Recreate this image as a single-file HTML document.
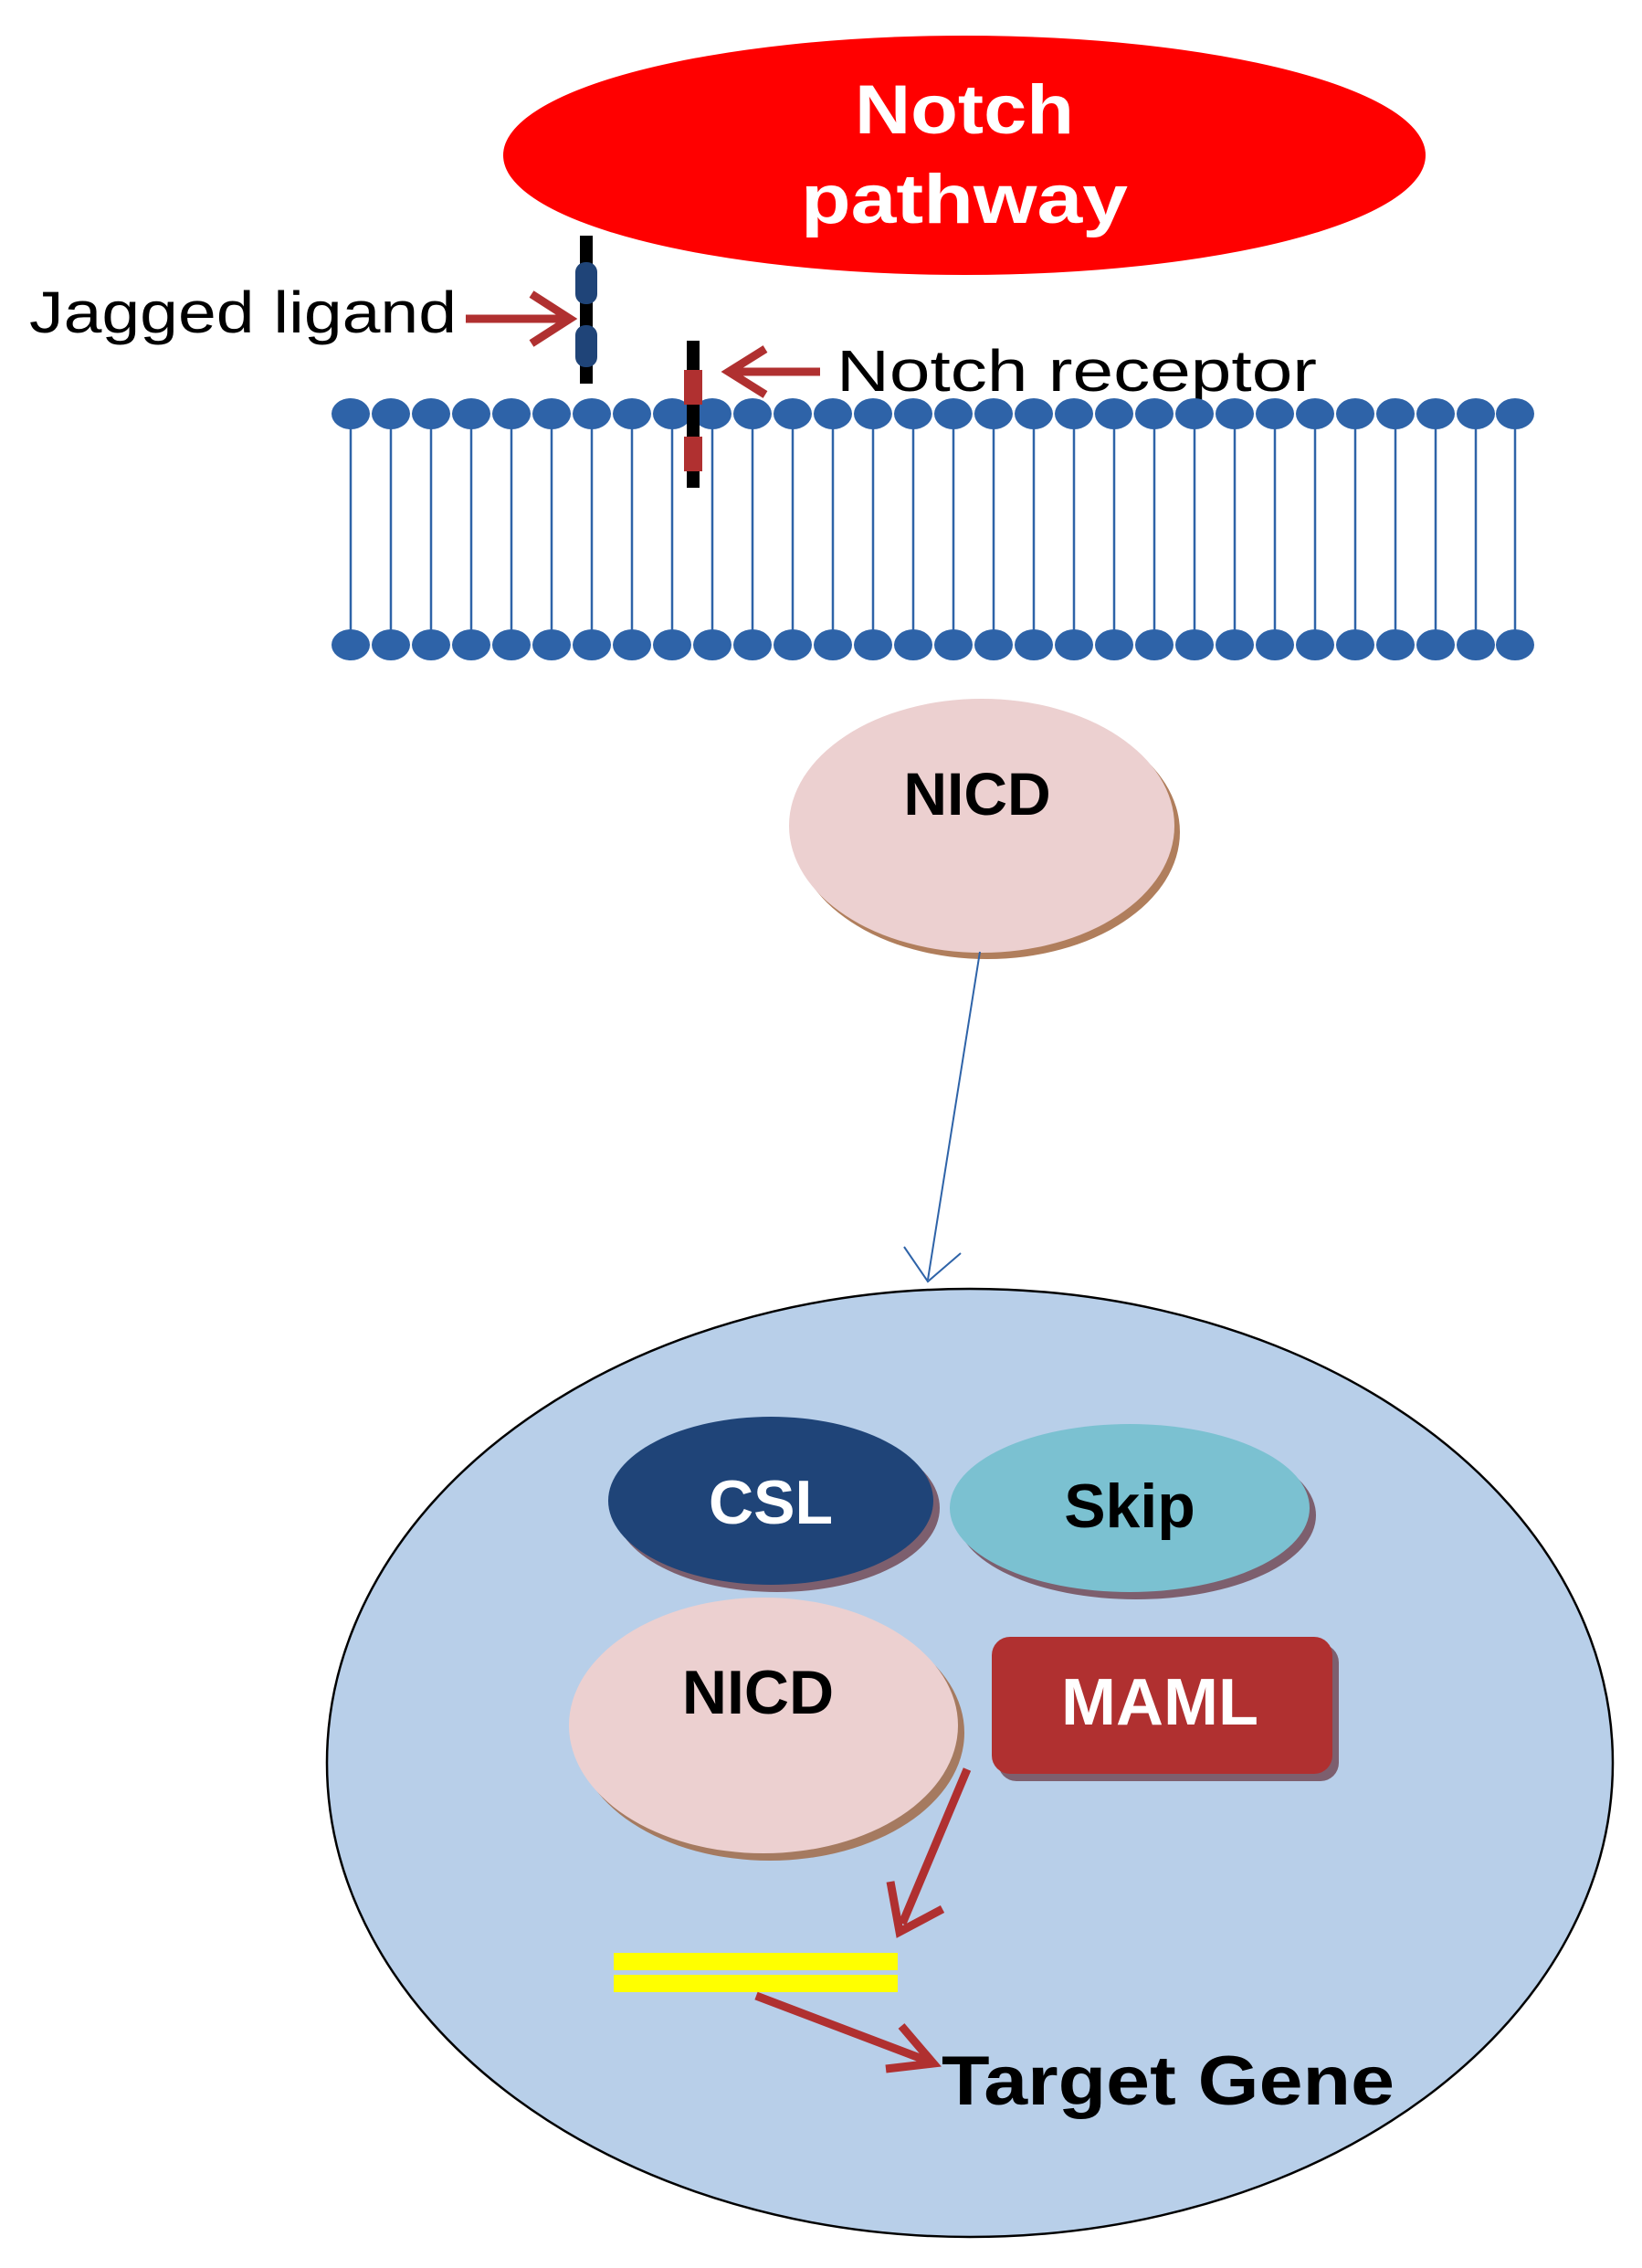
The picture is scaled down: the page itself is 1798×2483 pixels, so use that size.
<!DOCTYPE html>
<html><head><meta charset="utf-8"><style>html,body{margin:0;padding:0;background:#fff}svg{display:block}</style></head>
<body>
<svg width="1798" height="2483" viewBox="0 0 1798 2483" xmlns="http://www.w3.org/2000/svg" font-family="'Liberation Sans', sans-serif">
<!-- Notch pathway -->
<ellipse cx="1056" cy="170" rx="505" ry="131" fill="#ff0000"/>
<text x="1056" y="146" font-size="76" font-weight="bold" fill="#fff" text-anchor="middle" textLength="240" lengthAdjust="spacingAndGlyphs">Notch</text>
<text x="1056" y="244" font-size="76" font-weight="bold" fill="#fff" text-anchor="middle" textLength="358" lengthAdjust="spacingAndGlyphs">pathway</text>

<!-- Jagged ligand -->
<text x="32" y="364" font-size="64" fill="#000" textLength="468" lengthAdjust="spacingAndGlyphs">Jagged ligand</text>
<line x1="510" y1="349" x2="622" y2="349" stroke="#b03030" stroke-width="9"/>
<path d="M582,322 L624,349 L582,376" fill="none" stroke="#b03030" stroke-width="9"/>

<!-- Notch receptor label -->
<line x1="800" y1="407" x2="898" y2="407" stroke="#b03030" stroke-width="9"/>
<path d="M838,382 L798,407 L838,432" fill="none" stroke="#b03030" stroke-width="9"/>
<text x="916" y="428" font-size="64" fill="#000" textLength="526" lengthAdjust="spacingAndGlyphs">Notch receptor</text>

<!-- membrane -->
<g stroke="#2e63a8" stroke-width="2.5">
<line x1="384" y1="453" x2="384" y2="706"/><line x1="428" y1="453" x2="428" y2="706"/><line x1="472" y1="453" x2="472" y2="706"/><line x1="516" y1="453" x2="516" y2="706"/><line x1="560" y1="453" x2="560" y2="706"/><line x1="604" y1="453" x2="604" y2="706"/><line x1="648" y1="453" x2="648" y2="706"/><line x1="692" y1="453" x2="692" y2="706"/><line x1="736" y1="453" x2="736" y2="706"/><line x1="780" y1="453" x2="780" y2="706"/><line x1="824" y1="453" x2="824" y2="706"/><line x1="868" y1="453" x2="868" y2="706"/><line x1="912" y1="453" x2="912" y2="706"/><line x1="956" y1="453" x2="956" y2="706"/><line x1="1000" y1="453" x2="1000" y2="706"/><line x1="1044" y1="453" x2="1044" y2="706"/><line x1="1088" y1="453" x2="1088" y2="706"/><line x1="1132" y1="453" x2="1132" y2="706"/><line x1="1176" y1="453" x2="1176" y2="706"/><line x1="1220" y1="453" x2="1220" y2="706"/><line x1="1264" y1="453" x2="1264" y2="706"/><line x1="1308" y1="453" x2="1308" y2="706"/><line x1="1352" y1="453" x2="1352" y2="706"/><line x1="1396" y1="453" x2="1396" y2="706"/><line x1="1440" y1="453" x2="1440" y2="706"/><line x1="1484" y1="453" x2="1484" y2="706"/><line x1="1528" y1="453" x2="1528" y2="706"/><line x1="1572" y1="453" x2="1572" y2="706"/><line x1="1616" y1="453" x2="1616" y2="706"/><line x1="1659" y1="453" x2="1659" y2="706"/>
</g>
<g fill="#2e63a8">
<ellipse cx="384" cy="453" rx="21" ry="17"/><ellipse cx="428" cy="453" rx="21" ry="17"/><ellipse cx="472" cy="453" rx="21" ry="17"/><ellipse cx="516" cy="453" rx="21" ry="17"/><ellipse cx="560" cy="453" rx="21" ry="17"/><ellipse cx="604" cy="453" rx="21" ry="17"/><ellipse cx="648" cy="453" rx="21" ry="17"/><ellipse cx="692" cy="453" rx="21" ry="17"/><ellipse cx="736" cy="453" rx="21" ry="17"/><ellipse cx="780" cy="453" rx="21" ry="17"/><ellipse cx="824" cy="453" rx="21" ry="17"/><ellipse cx="868" cy="453" rx="21" ry="17"/><ellipse cx="912" cy="453" rx="21" ry="17"/><ellipse cx="956" cy="453" rx="21" ry="17"/><ellipse cx="1000" cy="453" rx="21" ry="17"/><ellipse cx="1044" cy="453" rx="21" ry="17"/><ellipse cx="1088" cy="453" rx="21" ry="17"/><ellipse cx="1132" cy="453" rx="21" ry="17"/><ellipse cx="1176" cy="453" rx="21" ry="17"/><ellipse cx="1220" cy="453" rx="21" ry="17"/><ellipse cx="1264" cy="453" rx="21" ry="17"/><ellipse cx="1308" cy="453" rx="21" ry="17"/><ellipse cx="1352" cy="453" rx="21" ry="17"/><ellipse cx="1396" cy="453" rx="21" ry="17"/><ellipse cx="1440" cy="453" rx="21" ry="17"/><ellipse cx="1484" cy="453" rx="21" ry="17"/><ellipse cx="1528" cy="453" rx="21" ry="17"/><ellipse cx="1572" cy="453" rx="21" ry="17"/><ellipse cx="1616" cy="453" rx="21" ry="17"/><ellipse cx="1659" cy="453" rx="21" ry="17"/>
<ellipse cx="384" cy="706" rx="21" ry="17"/><ellipse cx="428" cy="706" rx="21" ry="17"/><ellipse cx="472" cy="706" rx="21" ry="17"/><ellipse cx="516" cy="706" rx="21" ry="17"/><ellipse cx="560" cy="706" rx="21" ry="17"/><ellipse cx="604" cy="706" rx="21" ry="17"/><ellipse cx="648" cy="706" rx="21" ry="17"/><ellipse cx="692" cy="706" rx="21" ry="17"/><ellipse cx="736" cy="706" rx="21" ry="17"/><ellipse cx="780" cy="706" rx="21" ry="17"/><ellipse cx="824" cy="706" rx="21" ry="17"/><ellipse cx="868" cy="706" rx="21" ry="17"/><ellipse cx="912" cy="706" rx="21" ry="17"/><ellipse cx="956" cy="706" rx="21" ry="17"/><ellipse cx="1000" cy="706" rx="21" ry="17"/><ellipse cx="1044" cy="706" rx="21" ry="17"/><ellipse cx="1088" cy="706" rx="21" ry="17"/><ellipse cx="1132" cy="706" rx="21" ry="17"/><ellipse cx="1176" cy="706" rx="21" ry="17"/><ellipse cx="1220" cy="706" rx="21" ry="17"/><ellipse cx="1264" cy="706" rx="21" ry="17"/><ellipse cx="1308" cy="706" rx="21" ry="17"/><ellipse cx="1352" cy="706" rx="21" ry="17"/><ellipse cx="1396" cy="706" rx="21" ry="17"/><ellipse cx="1440" cy="706" rx="21" ry="17"/><ellipse cx="1484" cy="706" rx="21" ry="17"/><ellipse cx="1528" cy="706" rx="21" ry="17"/><ellipse cx="1572" cy="706" rx="21" ry="17"/><ellipse cx="1616" cy="706" rx="21" ry="17"/><ellipse cx="1659" cy="706" rx="21" ry="17"/>
</g>

<!-- ligand & receptor bars -->
<rect x="635" y="258" width="14" height="162" fill="#000"/>
<rect x="630" y="287" width="24" height="46" rx="11" fill="#1f4478"/>
<rect x="630" y="356" width="24" height="46" rx="11" fill="#1f4478"/>
<rect x="752" y="373" width="14" height="161" fill="#000"/>
<rect x="749" y="405" width="20" height="38" fill="#b03030"/>
<rect x="749" y="478" width="20" height="38" fill="#b03030"/>

<!-- NICD top -->
<ellipse cx="1081" cy="911" rx="211" ry="139" fill="#b07e5c"/>
<ellipse cx="1075" cy="904" rx="211" ry="139" fill="#ecd0d0"/>
<text x="1070" y="892" font-size="66" font-weight="bold" fill="#000" text-anchor="middle">NICD</text>
<line x1="1073" y1="1042" x2="1016" y2="1401" stroke="#2e63a8" stroke-width="2"/>
<path d="M990,1365 L1016,1403 L1052,1372" fill="none" stroke="#2e63a8" stroke-width="2"/>

<!-- nucleus -->
<ellipse cx="1062" cy="1930" rx="704" ry="519" fill="#b8cfe9" stroke="#000" stroke-width="2.5"/>
<ellipse cx="851" cy="1651" rx="178" ry="92" fill="#7d5f6e"/>
<ellipse cx="844" cy="1643" rx="178" ry="92" fill="#1f4478"/>
<text x="844" y="1668" font-size="68" font-weight="bold" fill="#fff" text-anchor="middle">CSL</text>
<ellipse cx="1244" cy="1659" rx="197" ry="92" fill="#7d5f6e"/>
<ellipse cx="1237" cy="1651" rx="197" ry="92" fill="#7bc1d1"/>
<text x="1237" y="1672" font-size="68" font-weight="bold" fill="#000" text-anchor="middle">Skip</text>
<ellipse cx="843" cy="1897" rx="213" ry="140" fill="#a57a60"/>
<ellipse cx="836" cy="1889" rx="213" ry="140" fill="#ecd0d0"/>
<text x="830" y="1876" font-size="68" font-weight="bold" fill="#000" text-anchor="middle">NICD</text>
<rect x="1093" y="1800" width="373" height="150" rx="20" fill="#7d5f6e"/>
<rect x="1086" y="1792" width="373" height="150" rx="20" fill="#b03030"/>
<text x="1270" y="1888" font-size="72" font-weight="bold" fill="#fff" text-anchor="middle">MAML</text>
<line x1="1059" y1="1937" x2="988" y2="2106" stroke="#b03030" stroke-width="9"/>
<path d="M975,2060 L985,2115 L1032,2090" fill="none" stroke="#b03030" stroke-width="9"/>
<rect x="672" y="2138" width="311" height="19" fill="#ffff00"/>
<rect x="672" y="2162" width="311" height="19" fill="#ffff00"/>
<line x1="828" y1="2185" x2="1015" y2="2256" stroke="#b03030" stroke-width="9"/>
<path d="M987,2218 L1022,2259 L970,2265" fill="none" stroke="#b03030" stroke-width="9"/>
<text x="1031" y="2304" font-size="76" font-weight="bold" fill="#000" textLength="496" lengthAdjust="spacingAndGlyphs">Target Gene</text>
</svg>
</body></html>
